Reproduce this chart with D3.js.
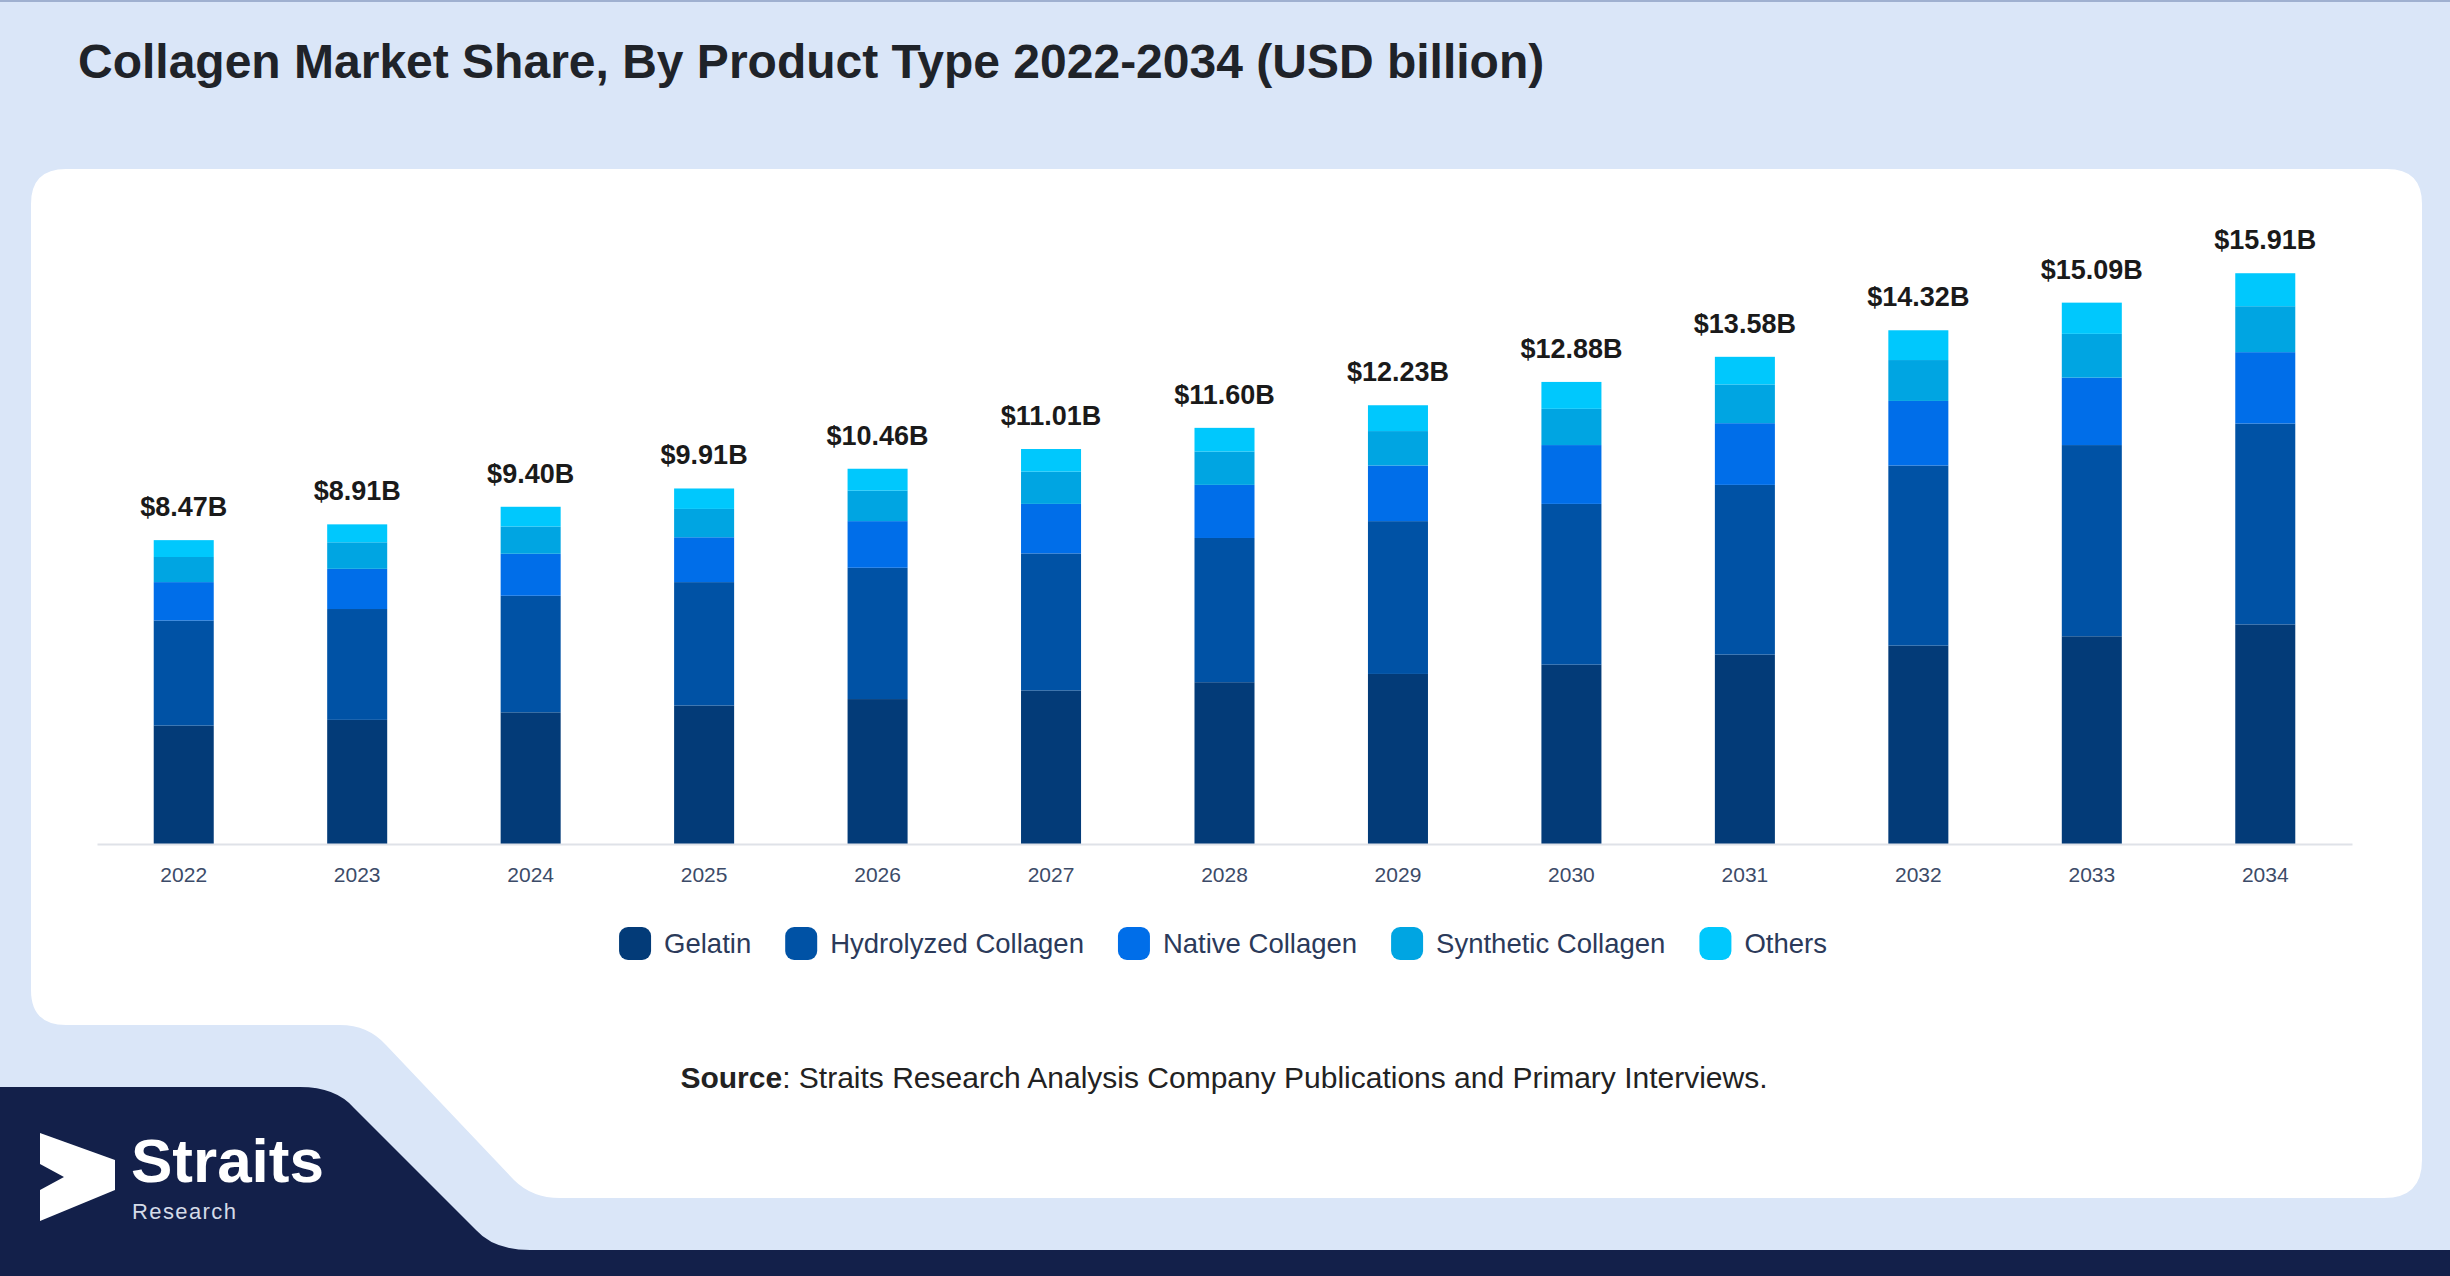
<!DOCTYPE html>
<html>
<head>
<meta charset="utf-8">
<script src="https://cdn.jsdelivr.net/npm/d3@7"></script>
<style>
  body { margin: 0; background: #dae6f8; }
  svg { display: block; font-family: "Liberation Sans", Arial, sans-serif; }
</style>
</head>
<body>
<div id="container"></div>
<script>
let w = 2450;
let h = 1276;

// data (USD billion)
let years = ["2022", "2023", "2024", "2025", "2026", "2027", "2028", "2029", "2030", "2031", "2032", "2033", "2034"];
let gelatin = [3.30, 3.46, 3.67, 3.86, 4.04, 4.28, 4.51, 4.74, 5.00, 5.28, 5.53, 5.79, 6.12];
let hydrolyzed = [2.93, 3.09, 3.25, 3.44, 3.66, 3.82, 4.02, 4.26, 4.48, 4.73, 5.02, 5.33, 5.60];
let native = [1.07, 1.12, 1.17, 1.25, 1.30, 1.38, 1.48, 1.55, 1.64, 1.72, 1.80, 1.88, 1.99];
let synthetic = [0.70, 0.74, 0.76, 0.79, 0.85, 0.90, 0.93, 0.96, 1.01, 1.08, 1.14, 1.22, 1.28];
let others = [0.47, 0.50, 0.55, 0.57, 0.61, 0.63, 0.66, 0.72, 0.75, 0.77, 0.83, 0.87, 0.92];
let totals = [8.47, 8.91, 9.40, 9.91, 10.46, 11.01, 11.60, 12.23, 12.88, 13.58, 14.32, 15.09, 15.91];

let seriesNames = ["Gelatin", "Hydrolyzed Collagen", "Native Collagen", "Synthetic Collagen", "Others"];
let seriesValues = [gelatin, hydrolyzed, native, synthetic, others];
let colors = ["#033b78", "#0052a5", "#006ee9", "#00a5e2", "#00c8fd"];

let viz = d3.select("#container").append("svg")
    .attr("width", w)
    .attr("height", h);

// page background + frame shapes
viz.append("rect").attr("width", w).attr("height", h).attr("fill", "#dae6f8");
viz.append("rect").attr("width", w).attr("height", 2).attr("fill", "#9fb0d0");

viz.append("path")
    .attr("fill", "#ffffff")
    .attr("d", "M31,204 Q31,169 66,169 L2387,169 Q2422,169 2422,204 L2422,1160 Q2422,1198 2384,1198 L560,1198 Q532,1198 514,1180 L386,1045 Q368,1025 340,1025 L66,1025 Q31,1025 31,990 Z");

viz.append("path")
    .attr("fill", "#13204a")
    .attr("d", "M0,1087 L300,1087 Q336,1087 354,1108 L476,1230 Q494,1250 530,1250 L2450,1250 L2450,1276 L0,1276 Z");

// title
viz.append("text")
    .attr("x", 78)
    .attr("y", 78)
    .attr("font-size", 48)
    .attr("font-weight", "bold")
    .attr("fill", "#1f2329")
    .text("Collagen Market Share, By Product Type 2022-2034 (USD billion)");

// scales
let x = d3.scaleBand()
    .domain(years)
    .range([97, 2352])
    .paddingInner(0.654)
    .paddingOuter(0.327);

let y = d3.scaleLinear()
    .domain([0, 16])
    .range([844, 270]);

let rows = years.map((yr, i) => {
    let r = { year: yr };
    seriesNames.forEach((s, j) => { r[s] = seriesValues[j][i]; });
    return r;
});

let stacked = d3.stack().keys(seriesNames)(rows);

viz.selectAll(".series").data(stacked).enter()
    .append("g")
        .attr("class", "series")
        .attr("fill", (d, i) => colors[i])
    .selectAll("rect").data(d => d).enter()
    .append("rect")
        .attr("x", d => x(d.data.year))
        .attr("width", x.bandwidth())
        .attr("y", d => y(d[1]))
        .attr("height", d => y(d[0]) - y(d[1]));

// axis
let xAxis = viz.append("g")
    .attr("transform", "translate(0," + y(0) + ")")
    .call(d3.axisBottom(x).tickSize(0));
xAxis.select(".domain").attr("stroke", "#dfe2e8").attr("stroke-width", 2);
xAxis.selectAll("text")
    .attr("y", 31)
    .attr("dy", "0.35em")
    .attr("font-size", 21)
    .attr("font-family", "Liberation Sans, Arial, sans-serif")
    .attr("fill", "#3c4b68");

// total labels
viz.selectAll(".total").data(totals).enter()
    .append("text")
        .attr("class", "total")
        .attr("x", (d, i) => x(years[i]) + x.bandwidth() / 2)
        .attr("y", d => y(d) - 24)
        .attr("text-anchor", "middle")
        .attr("font-size", 27)
        .attr("font-weight", "bold")
        .attr("fill", "#1a1a1a")
        .text(d => "$" + d.toFixed(2) + "B");

// legend
let legend = viz.append("g");
let items = legend.selectAll(".item").data(seriesNames).enter()
    .append("g").attr("class", "item");
items.append("rect")
    .attr("width", 32).attr("height", 33)
    .attr("y", 927)
    .attr("rx", 9)
    .attr("fill", (d, i) => colors[i]);
items.append("text")
    .attr("x", 45)
    .attr("y", 943)
    .attr("dy", "0.35em")
    .attr("font-size", 27.5)
    .attr("fill", "#2b3a5a")
    .text(d => d);

let pos = 0;
let offsets = [];
items.each(function() {
    offsets.push(pos);
    let tw = d3.select(this).select("text").node().getComputedTextLength();
    pos += 45 + tw + 34;
});
pos -= 34;
let startX = 1223 - pos / 2;
items.attr("transform", (d, i) => "translate(" + (startX + offsets[i]) + ",0)");

// source line
let src = viz.append("text")
    .attr("x", 1224)
    .attr("y", 1088)
    .attr("text-anchor", "middle")
    .attr("font-size", 30)
    .attr("fill", "#222222");
src.append("tspan").attr("font-weight", "bold").text("Source");
src.append("tspan").text(": Straits Research Analysis Company Publications and Primary Interviews.");

// logo
viz.append("polygon")
    .attr("fill", "#ffffff")
    .attr("points", "40,1133 115,1160 115,1190 40,1221 40,1190 64,1177 40,1164");
viz.append("text")
    .attr("x", 131)
    .attr("y", 1182)
    .attr("font-size", 62)
    .attr("font-weight", "bold")
    .attr("fill", "#ffffff")
    .text("Straits");
viz.append("text")
    .attr("x", 132)
    .attr("y", 1219)
    .attr("font-size", 22)
    .attr("letter-spacing", 1.4)
    .attr("fill", "#d5dbe8")
    .text("Research");
</script>
</body>
</html>
